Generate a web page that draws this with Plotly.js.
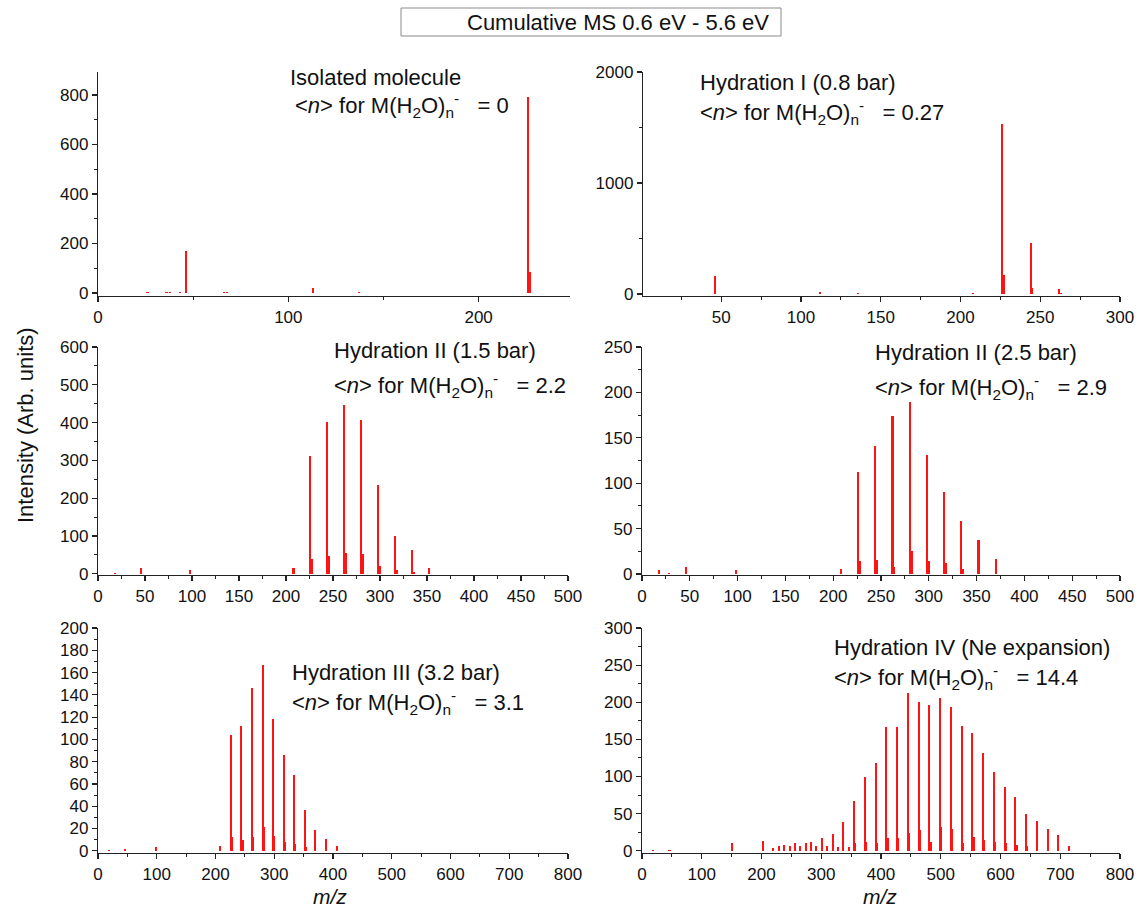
<!DOCTYPE html>
<html>
<head>
<meta charset="utf-8">
<script src="https://cdn.plot.ly/plotly-3.0.1.min.js"></script>
<style>html,body{margin:0;padding:0;background:#fff}#chart{width:1140px;height:917px}</style>
</head>
<body>
<div id="chart"></div>
<script>
// ---- data (m/z, intensity) ----
const isoMz   = [26, 36, 38, 43, 46, 66, 68, 113, 137, 226, 227];
const isoInt  = [4, 4, 4, 4, 168, 5, 5, 19, 5, 790, 87];

const hyd1Mz  = [26, 46, 112, 136, 208, 226, 227, 244, 245, 262, 263];
const hyd1Int = [3, 162, 21, 6, 6, 1535, 171, 462, 51, 48, 10];

const hyd2aMz  = [18, 46, 98, 208, 226, 228, 244, 246, 262, 264, 280, 282, 298, 300, 316, 318, 334, 336, 352];
const hyd2aInt = [3, 16, 10, 15, 312, 39, 401, 48, 447, 56, 406, 52, 236, 21, 101, 9, 63, 5, 15];

const hyd2bMz  = [18, 28, 46, 98, 208, 226, 228, 244, 246, 262, 264, 280, 282, 298, 300, 316, 318, 334, 336, 352, 370];
const hyd2bInt = [4, 1, 8, 5, 6, 112, 14, 141, 16, 174, 8, 190, 25, 131, 14, 90, 12, 58, 6, 38, 17];

const hyd3Mz  = [18, 46, 98, 208, 226, 228, 244, 246, 262, 264, 280, 282, 298, 300, 316, 318, 334, 336, 352, 354, 370, 388, 406];
const hyd3Int = [1, 2, 3, 4, 104, 12, 112, 10, 146, 12, 167, 21, 118, 13, 86, 8, 68, 6, 37, 3, 19, 11, 4];

const hyd4Mz  = [18, 46, 151, 202, 219, 229, 238, 247, 256, 265, 274, 283, 292, 301, 310, 319, 328, 337, 346,
                 355, 357, 373, 375, 391, 393, 409, 411, 427, 429, 445, 447, 463, 465, 481, 483, 499, 501, 517, 519,
                 535, 537, 553, 555, 571, 573, 589, 591, 607, 609, 625, 627, 643, 645, 661, 679, 697, 715];
const hyd4Int = [1, 1, 10, 13, 4, 7, 8, 6, 10, 7, 10, 12, 7, 17, 7, 22, 5, 39, 5,
                 67, 10, 99, 12, 118, 10, 167, 17, 167, 17, 213, 24, 200, 28, 196, 12, 206, 32, 194, 30,
                 168, 10, 158, 19, 132, 15, 106, 12, 86, 11, 72, 8, 49, 6, 40, 30, 21, 7];

const panelLabels = [
  ["Isolated molecule", "0"],
  ["Hydration I (0.8 bar)", "0.27"],
  ["Hydration II (1.5 bar)", "2.2"],
  ["Hydration II (2.5 bar)", "2.9"],
  ["Hydration III (3.2 bar)", "3.1"],
  ["Hydration IV (Ne expansion)", "14.4"]
];
const mainTitle = "Cumulative MS 0.6 eV - 5.6 eV";
const yTitle = "Intensity (Arb. units)";
const xTitle = "<i>m/z</i>";

// ---- layout helpers (pixel geometry) ----
const W = 1140, H = 917;
const px = v => v / W;
const py = v => (H - v) / H;
const FONT = "Liberation Sans, Arial, Helvetica, sans-serif";
const RED = "#ff1414";

const series = [
  {x: isoMz,  y: isoInt,  w: 1.1},
  {x: hyd1Mz, y: hyd1Int, w: 1.3},
  {x: hyd2aMz, y: hyd2aInt, w: 2.2},
  {x: hyd2bMz, y: hyd2bInt, w: 2.2},
  {x: hyd3Mz, y: hyd3Int, w: 3.4},
  {x: hyd4Mz, y: hyd4Int, w: 3.4}
];

const geo = [
  {x: [98, 570],  y: [72, 296],  xr: [0, 248],  xd: 100, xm: 50, yr: [-12, 893], yd: 200, ym: 100},
  {x: [643, 1120], y: [72, 296], xr: [1, 300],  xd: 50,  xm: 25, yr: [-18, 2000], yd: 1000, ym: 500},
  {x: [98, 568],  y: [347, 575], xr: [0, 500],  xd: 50,  xm: 25, yr: [-3, 600], yd: 100, ym: 50},
  {x: [642, 1120], y: [347, 575], xr: [0, 500], xd: 50,  xm: 25, yr: [-1, 250], yd: 50, ym: 25},
  {x: [98, 568],  y: [628, 853], xr: [0, 800],  xd: 100, xm: 50, yr: [-2, 200], yd: 20, ym: 10},
  {x: [642, 1120], y: [628, 853], xr: [0, 800], xd: 100, xm: 50, yr: [-3, 300], yd: 50, ym: 25}
];

// annotation positions [line1 left x, line1 center y, line2 left x, line2 center y]
const labPos = [
  [288, 77, 293, 106],
  [698, 83, 698, 113],
  [332, 350, 332, 385],
  [873, 352, 873, 387],
  [290, 672, 290, 702],
  [832, 647, 832, 677]
];

const data = [];
const layout = {
  width: W, height: H,
  margin: {l: 0, r: 0, t: 0, b: 0},
  paper_bgcolor: "#fff", plot_bgcolor: "rgba(0,0,0,0)",
  showlegend: false,
  bargap: 0,
  barmode: "overlay",
  font: {family: FONT, size: 17, color: "#111"},
  annotations: [],
  shapes: []
};

series.forEach((s, i) => {
  const n = i + 1;
  const xa = n === 1 ? "x" : "x" + n;
  const ya = n === 1 ? "y" : "y" + n;
  data.push({
    type: "bar", x: s.x, y: s.y, width: s.w,
    xaxis: xa, yaxis: ya,
    marker: {color: RED, line: {width: 0}},
    hoverinfo: "x+y"
  });
  const g = geo[i];
  const axCommon = {
    showline: true, linecolor: "#222", linewidth: 1.2,
    ticks: "outside", ticklen: 5, tickwidth: 1.2, tickcolor: "#222",
    showgrid: false, zeroline: false,
    tickfont: {family: FONT, size: 17, color: "#111"},
    fixedrange: true
  };
  layout["xaxis" + (n === 1 ? "" : n)] = Object.assign({}, axCommon, {
    domain: [px(g.x[0]), px(g.x[1])],
    range: g.xr, tickmode: "linear", tick0: 0, dtick: g.xd,
    minor: {ticks: "outside", ticklen: 3, tickwidth: 1, tickcolor: "#222", dtick: g.xm, tick0: 0},
    anchor: ya, ticklabelstandoff: 0
  });
  layout["yaxis" + (n === 1 ? "" : n)] = Object.assign({}, axCommon, {
    domain: [py(g.y[1]), py(g.y[0])],
    range: g.yr, tickmode: "linear", tick0: 0, dtick: g.yd,
    minor: {ticks: "outside", ticklen: 3, tickwidth: 1, tickcolor: "#222", dtick: g.ym, tick0: 0},
    anchor: xa, ticklabelstandoff: 0
  });
  const p = labPos[i];
  layout.annotations.push({
    xref: "paper", yref: "paper", x: px(p[0]), y: py(p[1]),
    xanchor: "left", yanchor: "middle", showarrow: false,
    text: panelLabels[i][0], font: {family: FONT, size: 22, color: "#111"}
  });
  layout.annotations.push({
    xref: "paper", yref: "paper", x: px(p[2]), y: py(p[3]),
    xanchor: "left", yanchor: "middle", showarrow: false,
    text: "&lt;<i>n</i>&gt; for M(H<sub>2</sub>O)<sub>n</sub><sup>-</sup>\u00a0\u00a0 = " + panelLabels[i][1],
    font: {family: FONT, size: 22, color: "#111"}
  });
});

// title box
layout.shapes.push({
  type: "rect", xref: "paper", yref: "paper",
  x0: px(401), x1: px(781), y0: py(36), y1: py(8),
  line: {color: "#8a8a8a", width: 1}, fillcolor: "rgba(0,0,0,0)"
});
layout.annotations.push({
  xref: "paper", yref: "paper", x: px(771), y: py(22),
  xanchor: "right", yanchor: "middle", showarrow: false,
  text: mainTitle, font: {family: FONT, size: 22, color: "#111"}
});
// y title
layout.annotations.push({
  xref: "paper", yref: "paper", x: px(25), y: py(425),
  xanchor: "center", yanchor: "middle", showarrow: false, textangle: -90,
  text: yTitle, font: {family: FONT, size: 22, color: "#111"}
});
// x titles
layout.annotations.push({
  xref: "paper", yref: "paper", x: px(330), y: py(896),
  xanchor: "center", yanchor: "middle", showarrow: false,
  text: xTitle, font: {family: FONT, size: 21, color: "#111"}
});
layout.annotations.push({
  xref: "paper", yref: "paper", x: px(880), y: py(896),
  xanchor: "center", yanchor: "middle", showarrow: false,
  text: xTitle, font: {family: FONT, size: 21, color: "#111"}
});

Plotly.newPlot("chart", data, layout, {displayModeBar: false, staticPlot: true});
</script>
</body>
</html>
